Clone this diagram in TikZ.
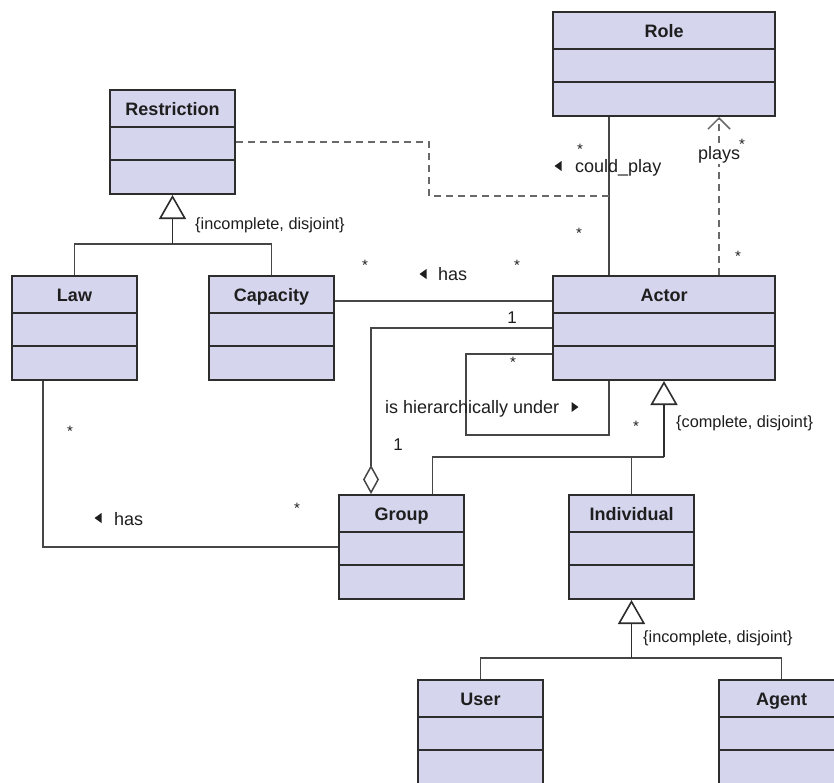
\documentclass[tikz,border=0pt]{standalone}
\usepackage{fontspec}
\setmainfont{Liberation Sans}
\usetikzlibrary{arrows.meta,calc}

\definecolor{classfill}{RGB}{213,213,238}
\definecolor{edge}{RGB}{45,45,45}
\definecolor{wire}{RGB}{70,70,70}
\definecolor{dashgray}{RGB}{105,105,105}
\definecolor{ink}{RGB}{30,30,30}

\tikzset{
  classbox/.style={rectangle, draw=edge, fill=classfill, line width=2pt,
    minimum height=104pt, inner sep=0pt},
  classrule/.style={draw=edge, line width=2pt},
  classtitle/.style={font=\fontsize{18}{20}\selectfont\bfseries, text=ink, inner sep=0pt},
  assoc/.style={draw=wire, line width=1.3pt},
  dashline/.style={draw=dashgray, line width=1.5pt, dash pattern=on 7pt off 5pt},
  genarrow/.style={draw=edge, line width=1.6pt,
    -{Triangle[length=24pt,width=27pt,fill=white]}},
  aggrarrow/.style={draw=wire, line width=1.3pt,
    -{Diamond[length=29pt,width=16pt,fill=white,line width=1.5pt]}},
  lbl/.style={font=\fontsize{18}{20}\selectfont, text=ink, inner sep=0pt},
  cons/.style={font=\fontsize{16.3}{18}\selectfont, text=ink, inner sep=0pt},
  mult/.style={font=\fontsize{15}{15}\selectfont, text=ink, inner sep=0pt},
  one/.style={font=\fontsize{17}{18}\selectfont, text=ink, inner sep=0pt},
}

% class box: name, left x, top y, width, title
\newcommand\umlclass[5]{%
  \node[classbox, minimum width=#4pt, anchor=north west] (#1) at (#2,#3) {};
  \node[classtitle, anchor=base] (#1-title) at ([yshift=-26pt]#1.north) {#5};
  \draw[classrule] ([yshift=-38pt]#1.north west) -- ([yshift=-38pt]#1.north east);
  \draw[classrule] ([yshift=-71pt]#1.north west) -- ([yshift=-71pt]#1.north east);
}
% small reading-direction triangles
\newcommand\dirleft[2]{\fill[ink] (#1+3.5,#2-5) -- (#1-3.5,#2) -- (#1+3.5,#2+5) -- cycle;}
\newcommand\dirright[2]{\fill[ink] (#1-3.5,#2-5) -- (#1+3.5,#2) -- (#1-3.5,#2+5) -- cycle;}

\begin{document}
\begin{tikzpicture}[x=1pt,y=-1pt]
\useasboundingbox (0,0) rectangle (834,782);
\clip (0,0) rectangle (834,782);
\fill[white] (0,0) rectangle (834,782);

% classes
\umlclass{role}{552}{11}{222}{Role}
\umlclass{restriction}{109}{89}{125}{Restriction}
\umlclass{law}{11}{275}{125}{Law}
\umlclass{capacity}{208}{275}{125}{Capacity}
\umlclass{actor}{552}{275}{222}{Actor}
\umlclass{group}{338}{494}{125}{Group}
\umlclass{individual}{568}{494}{125}{Individual}
\umlclass{user}{417}{679}{125}{User}
\umlclass{agent}{718}{679}{125}{Agent}

% Restriction specialisation
\coordinate (rj) at (restriction.south |- 0,244);
\draw[assoc] (law.north) |- (rj) -| (capacity.north);
\draw[genarrow] (rj) -- (restriction.south);
\node[cons, anchor=base west] (rcons) at (195,229) {\{incomplete, disjoint\}};

% Actor specialisation
\coordinate (aj) at (actor.south |- 0,457);
\draw[assoc] ([xshift=31pt]group.north) |- (aj);
\draw[assoc] (individual.north) |- (aj);
\draw[genarrow] (aj) -- (actor.south);
\node[cons, anchor=base west] (acons) at (676,427) {\{complete, disjoint\}};

% Individual specialisation
\coordinate (ij) at (individual.south |- 0,658);
\draw[assoc] (user.north) |- (ij) -| (agent.north);
\draw[genarrow] (ij) -- (individual.south);
\node[cons, anchor=base west] (icons) at (643,642) {\{incomplete, disjoint\}};

% could_play
\draw[assoc] ([xshift=-55pt]role.south) -- ([xshift=-55pt]actor.north);
\coordinate (cpj) at ([xshift=-55pt]role.south |- 0,196);
\draw[dashline] (restriction.east) -- ++(193,0) |- (cpj);
\dirleft{558}{166}
\node[lbl, anchor=base west] (cpl) at (575,172) {could\_play};
\node[mult] (m1) at (580,149) {*};
\node[mult] (m2) at (579,233) {*};

% plays
\draw[dashline, -{Straight Barb[length=11pt,width=22pt,line width=1.5pt]}]
  ([xshift=55pt]actor.north) -- ([xshift=55pt]role.south);
\node[lbl, anchor=base west, fill=white, inner sep=1pt] (pl) at (697,159) {plays};
\node[mult] (m3) at (742,144) {*};
\node[mult] (m4) at (738,256) {*};

% Capacity has Actor
\draw[assoc] ([yshift=27pt]capacity.east) -- ([yshift=27pt]actor.west);
\dirleft{423}{274}
\node[lbl, anchor=base west] (hs1) at (438,280) {has};
\node[mult] (m5) at (365,265) {*};
\node[mult] (m6) at (517,265) {*};

% Group aggregates Actor
\draw[aggrarrow] (actor.west) -| ([xshift=-30.5pt]group.north);
\node[one] (o1) at (512,318) {1};
\node[one] (o2) at (398,445) {1};

% Actor hierarchy
\draw[assoc] ([yshift=-26pt]actor.west) -| ++(-86,81) -| ([xshift=-55pt]actor.south);
\node[lbl, anchor=base west] (hier) at (385,413) {is hierarchically under};
\dirright{575}{407}
\node[mult] (m7) at (513,362) {*};
\node[mult] (m8) at (636,426) {*};

% Law has Group
\draw[assoc] ([xshift=-31.5pt]law.south) |- (group.west);
\dirleft{98}{518}
\node[lbl, anchor=base west] (hs2) at (114,525) {has};
\node[mult] (m9) at (70,431) {*};
\node[mult] (m10) at (297,508) {*};
\end{tikzpicture}
\end{document}
